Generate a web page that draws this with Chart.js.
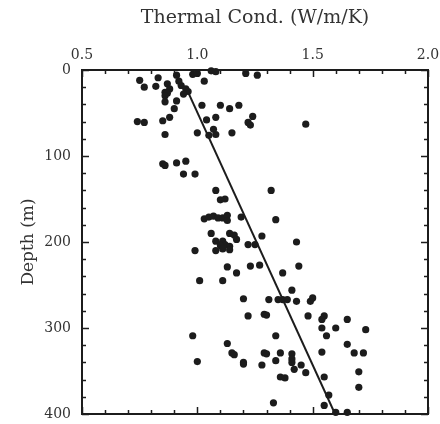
<!DOCTYPE html>
<html>
<head>
<meta charset="utf-8">
<script src="https://cdn.jsdelivr.net/npm/chart.js@4"></script>
<style>
  html, body { margin: 0; padding: 0; background: #fff; }
</style>
</head>
<body>
<canvas id="chart" width="440" height="424"></canvas>
<script>
const thermalCond = [
  0.75, 0.77, 0.82, 0.83, 0.91, 0.92, 0.87, 0.88, 0.86, 0.87, 0.86, 0.86,
  0.93, 0.95, 0.96, 0.94, 0.98, 1.00, 1.06, 1.08, 1.03, 1.21, 1.26, 0.91,
  0.90, 1.02, 1.10, 1.14, 1.18, 0.88, 0.85, 0.74, 0.77, 1.24, 1.22, 1.23,
  1.04, 1.08, 1.07, 1.08, 1.05, 1.00, 1.15, 0.86, 1.47, 0.85, 0.86, 0.91,
  0.95, 0.94, 0.99, 1.08, 1.32, 1.10, 1.12, 1.03, 1.05, 1.07, 1.09, 1.11,
  1.13, 1.13, 1.19, 1.34, 1.06, 1.14, 1.16, 1.17, 1.08, 1.11, 1.12, 1.14,
  1.10, 1.08, 1.11, 1.14, 0.99, 1.22, 1.25, 1.28, 1.43, 1.13, 1.17, 1.23,
  1.27, 1.44, 1.37, 1.01, 1.11, 1.41, 1.20, 1.31, 1.35, 1.37, 1.39, 1.43,
  1.49, 1.50, 1.22, 1.29, 1.30, 1.48, 1.55, 1.54, 1.54, 1.65, 1.60, 1.73,
  1.56, 1.34, 0.98, 1.13, 1.15, 1.16, 1.00, 1.29, 1.30, 1.36, 1.41, 1.41,
  1.41, 1.34, 1.20, 1.20, 1.28, 1.45, 1.42, 1.47, 1.54, 1.65, 1.68, 1.72,
  1.70, 1.36, 1.38, 1.55, 1.70, 1.57, 1.55, 1.33, 1.60, 1.65
];
const depth = [
  12, 20, 19, 9, 6, 13, 16, 22, 26, 27, 30, 37,
  18, 22, 25, 28, 5, 4, 1, 2, 13, 4, 6, 36,
  45, 41, 41, 45, 41, 55, 59, 60, 61, 54, 61, 64,
  58, 55, 69, 75, 76, 73, 73, 75, 63, 109, 111, 108,
  106, 121, 121, 140, 140, 151, 150, 173, 171, 170, 172, 172,
  169, 175, 171, 174, 190, 190, 192, 197, 199, 199, 203, 205,
  204, 210, 208, 209, 210, 203, 203, 193, 200, 229, 236, 228,
  227, 228, 236, 245, 245, 256, 266, 267, 267, 267, 267, 269,
  269, 265, 286, 284, 285, 286, 286, 290, 300, 290, 300, 302,
  309, 309, 309, 318, 329, 331, 339, 329, 330, 329, 330, 336,
  340, 338, 340, 342, 343, 343, 348, 352, 328, 319, 329, 329,
  351, 357, 358, 357, 369, 378, 390, 387, 398, 398
];

// fitted trend line
const fitCond = [0.95, 1.597];
const fitDepth = [20, 400];

// axis ticks
const xTicks = [0.5, 1.0, 1.5, 2.0];
const yTicks = [0, 100, 200, 300, 400];
const xMinorStep = 0.1;
const yMinorStep = 20;

const ink = "#1c1c1c";

const points = thermalCond.map((v, i) => ({ x: v, y: depth[i] }));
const fitLine = fitCond.map((v, i) => ({ x: v, y: fitDepth[i] }));

// box around the plot with inward ticks on every side
const boxTicks = {
  id: "boxTicks",
  afterDraw(chart) {
    const { ctx, chartArea: a, scales } = chart;
    const xs = scales.x, ys = scales.y;
    ctx.save();
    ctx.strokeStyle = ink;
    ctx.lineWidth = 1.5;
    const nx = Math.round((xs.max - xs.min) / xMinorStep);
    for (let i = 0; i <= nx; i++) {
      const v = xs.min + i * xMinorStep;
      const px = Math.round(xs.getPixelForValue(v)) + 0.5;
      const len = xTicks.some((t) => Math.abs(t - v) < 1e-6) ? 7 : 4;
      ctx.beginPath();
      ctx.moveTo(px, a.top); ctx.lineTo(px, a.top + len);
      ctx.moveTo(px, a.bottom); ctx.lineTo(px, a.bottom - len);
      ctx.stroke();
    }
    const ny = Math.round((ys.max - ys.min) / yMinorStep);
    for (let i = 0; i <= ny; i++) {
      const v = ys.min + i * yMinorStep;
      const py = Math.round(ys.getPixelForValue(v)) + 0.5;
      const len = yTicks.includes(v) ? 7 : 4;
      ctx.beginPath();
      ctx.moveTo(a.left, py); ctx.lineTo(a.left + len, py);
      ctx.moveTo(a.right, py); ctx.lineTo(a.right - len, py);
      ctx.stroke();
    }
    ctx.lineWidth = 2;
    ctx.strokeRect(a.left, a.top, a.right - a.left, a.bottom - a.top);
    ctx.restore();
  },
};

const chart = new Chart(document.getElementById("chart"), {
  type: "scatter",
  data: {
    datasets: [
      {
        label: "fit",
        type: "line",
        data: fitLine,
        borderColor: ink,
        borderWidth: 2,
        pointRadius: 0,
        fill: false,
      },
      {
        label: "samples",
        data: points,
        backgroundColor: ink,
        borderColor: ink,
        borderWidth: 0,
        pointRadius: 3.6,
        clip: false,
      },
    ],
  },
  options: {
    responsive: false,
    animation: false,
    devicePixelRatio: 1,
    layout: { padding: { left: 0, top: 0, right: 12, bottom: 10 } },
    plugins: {
      legend: { display: false },
      tooltip: { enabled: false },
    },
    scales: {
      x: {
        type: "linear",
        position: "top",
        min: 0.5,
        max: 2.0,
        afterBuildTicks: (s) => { s.ticks = xTicks.map((v) => ({ value: v })); },
        afterFit: (s) => {
          s.height = 70;
          s.paddingLeft = 0;
          s.paddingRight = 0;
        },
        grid: { display: false, drawTicks: false },
        border: { display: false },
        ticks: {
          padding: 6,
          color: "#333",
          font: { family: "DejaVu Serif", size: 14 },
          callback: (v) => Number(v).toFixed(1),
        },
        title: {
          display: true,
          text: "Thermal Cond. (W/m/K)",
          color: "#333",
          font: { family: "DejaVu Serif", size: 19 },
          padding: { top: 7, bottom: 0 },
        },
      },
      y: {
        type: "linear",
        reverse: true,
        min: 0,
        max: 400,
        afterBuildTicks: (s) => { s.ticks = yTicks.map((v) => ({ value: v })); },
        afterFit: (s) => {
          s.width = 82;
          s.paddingTop = 0;
          s.paddingBottom = 0;
        },
        grid: { display: false, drawTicks: false },
        border: { display: false },
        ticks: {
          padding: 11,
          color: "#333",
          font: { family: "DejaVu Serif", size: 14 },
        },
        title: {
          display: true,
          text: "Depth (m)",
          color: "#333",
          font: { family: "DejaVu Serif", size: 17 },
          padding: { top: 18, bottom: 0 },
        },
      },
    },
  },
  plugins: [boxTicks],
});
</script>
</body>
</html>
